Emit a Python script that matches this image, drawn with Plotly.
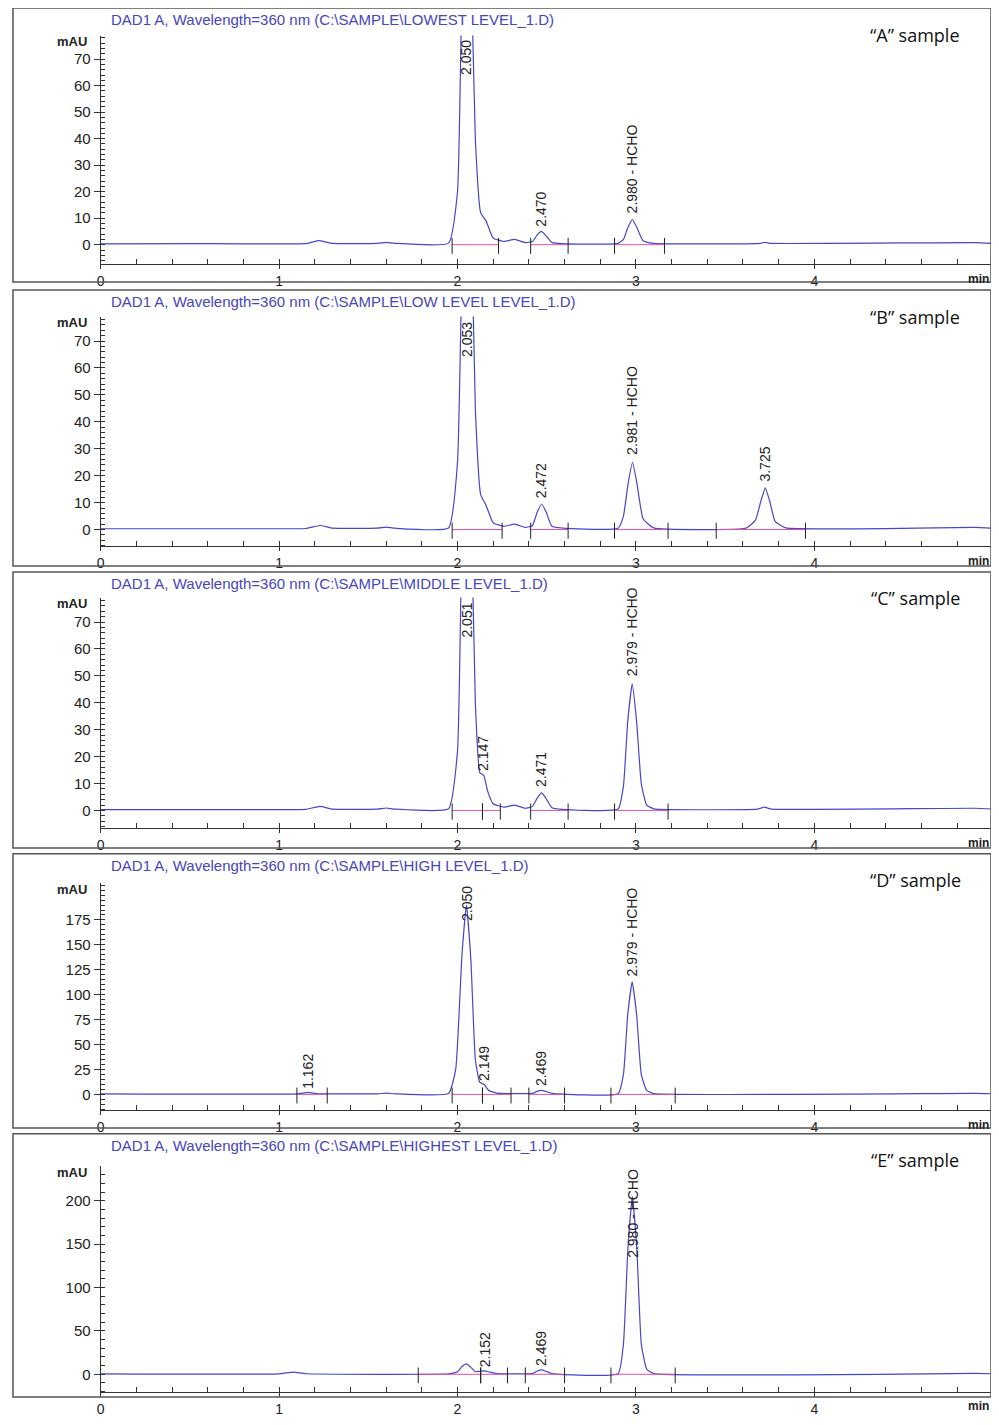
import plotly.graph_objects as go

# retention time (min) / signal (mAU)
t_a = [0, 0.6, 1.0, 1.15, 1.22, 1.3, 1.55, 1.6, 1.65, 1.95, 2.0, 2.025, 2.05, 2.075, 2.1, 2.13, 2.16, 2.2, 2.26, 2.32, 2.38, 2.42, 2.445, 2.47, 2.495, 2.53, 2.9, 2.93, 2.955, 2.98, 3.005, 3.04, 3.1, 3.7, 3.72, 3.76, 4.9, 5.0]
s_a = [0.3, 0.4, 0.3, 0.4, 1.5, 0.5, 0.5, 0.9, 0.5, 0.6, 20, 100, 150, 110, 40, 12, 9, 2.5, 1.2, 2, 0.8, 1.2, 3.5, 5, 3.5, 0.8, 0.5, 2, 6.5, 9.5, 6.5, 1.5, 0.5, 0.5, 0.9, 0.5, 0.8, 0.5]

t_b = [0, 1.0, 1.15, 1.23, 1.3, 1.55, 1.6, 1.65, 1.95, 2.0, 2.028, 2.053, 2.078, 2.1, 2.13, 2.16, 2.2, 2.26, 2.32, 2.38, 2.42, 2.447, 2.472, 2.497, 2.53, 2.9, 2.93, 2.956, 2.981, 3.006, 3.04, 3.1, 3.62, 3.67, 3.70, 3.725, 3.75, 3.78, 3.84, 4.9, 5.0]
s_b = [0.3, 0.3, 0.4, 1.5, 0.5, 0.5, 0.9, 0.5, 0.6, 25, 110, 160, 115, 45, 13, 9, 2.5, 1.2, 2, 0.8, 1.5, 6.5, 9.5, 6.5, 1.2, 0.5, 5, 17, 25, 17, 4, 0.6, 0.6, 3.5, 10.5, 15.5, 10.5, 3, 0.6, 0.8, 0.5]

t_c = [0, 1.0, 1.15, 1.23, 1.3, 1.55, 1.6, 1.65, 1.95, 2.0, 2.026, 2.051, 2.076, 2.1, 2.125, 2.147, 2.17, 2.2, 2.26, 2.32, 2.38, 2.42, 2.446, 2.471, 2.496, 2.53, 2.9, 2.93, 2.954, 2.979, 3.004, 3.03, 3.06, 3.1, 3.68, 3.72, 3.76, 4.9, 5.0]
s_c = [0.3, 0.3, 0.4, 1.5, 0.5, 0.5, 0.9, 0.5, 0.6, 22, 110, 160, 115, 40, 14, 13, 7, 2.5, 1.2, 2, 0.8, 1.5, 4.5, 6.5, 4.5, 1.0, 0.5, 9, 33, 47, 33, 10, 2, 0.6, 0.5, 1.2, 0.5, 0.8, 0.5]

t_d = [0, 1.1, 1.162, 1.22, 1.55, 1.6, 1.65, 1.95, 1.99, 2.025, 2.05, 2.075, 2.1, 2.125, 2.149, 2.175, 2.22, 2.3, 2.42, 2.445, 2.469, 2.495, 2.53, 2.9, 2.93, 2.954, 2.979, 3.004, 3.03, 3.06, 3.1, 4.9, 5.0]
s_d = [0.5, 0.5, 2, 0.6, 0.6, 1.2, 0.6, 0.8, 25, 140, 190, 135, 35, 12, 10, 4, 1.2, 0.8, 1, 3, 4, 3, 1, 0.6, 20, 80, 113, 80, 20, 4, 0.8, 1, 0.6]

t_e = [0, 1.0, 1.08, 1.15, 1.95, 2.0, 2.025, 2.05, 2.075, 2.1, 2.127, 2.152, 2.18, 2.22, 2.42, 2.445, 2.469, 2.495, 2.53, 2.9, 2.93, 2.955, 2.98, 3.005, 3.03, 3.06, 3.1, 4.9, 5.0]
s_e = [0.5, 0.5, 2.5, 0.6, 0.6, 3, 9, 12, 8, 3, 3.5, 4, 2.5, 0.8, 0.8, 3.5, 5, 3.5, 0.8, 0.6, 35, 145, 205, 145, 35, 6, 0.8, 1, 0.6]

# integration events (start, end) and labelled peaks
base_a = [(1.97, 2.23), (2.41, 2.62), (2.88, 3.16)]
base_b = [(1.97, 2.25), (2.41, 2.62), (2.88, 3.18), (3.45, 3.95)]
base_c = [(1.97, 2.14), (2.14, 2.24), (2.41, 2.62), (2.88, 3.18)]
base_d = [(1.10, 1.27), (1.97, 2.14), (2.14, 2.30), (2.40, 2.60), (2.86, 3.22)]
base_e = [(1.78, 2.13), (2.13, 2.28), (2.38, 2.60), (2.86, 3.22)]

lab_a = [(2.050, 78, "2.050", True), (2.470, 6, "2.470", False), (2.980, 11, "2.980 - HCHO", False)]
lab_b = [(2.053, 78, "2.053", True), (2.472, 11, "2.472", False), (2.981, 27, "2.981 - HCHO", False), (3.725, 17, "3.725", False)]
lab_c = [(2.051, 78, "2.051", True), (2.147, 14, "2.147", False), (2.471, 8, "2.471", False), (2.979, 49, "2.979 - HCHO", False)]
lab_d = [(2.050, 211, "2.050", True), (1.162, 4, "1.162", False), (2.149, 11, "2.149", False), (2.469, 6, "2.469", False), (2.979, 116, "2.979 - HCHO", False)]
lab_e = [(2.980, 239, "2.980 - HCHO", True), (2.152, 6, "2.152", False), (2.469, 7, "2.469", False)]

files = ["LOWEST LEVEL_1.D", "LOW LEVEL LEVEL_1.D", "MIDDLE LEVEL_1.D", "HIGH LEVEL_1.D", "HIGHEST LEVEL_1.D"]
samples = ["A", "B", "C", "D", "E"]

# pixel geometry of each panel: box top, box bottom, axis top, axis bottom
boxes = [(5, 283, 33, 265), (291, 571, 318, 551), (577, 857, 603, 837), (863, 1141, 893, 1123), (1147, 1423, 1180, 1409)]
yranges = [(-7.4, 78.9), (-6.2, 79.1), (-6.6, 79.1), (-15.8, 211.7), (-20.5, 239.8)]
ydticks = [10, 10, 10, 25, 50]
ymaxtick = [70, 70, 70, 175, 200]

# canvas is a little smaller than the window and sits offset in the page
OX, OY = 11, 5
W = 999 - 16
H = 1425 - 16
blue = "rgb(70,70,200)"
pink = "rgb(225,80,160)"


def px(p):
    return min(max((p - OX) / W, 0), 1)


def py(p):
    return min(max(1 - (p - OY) / H, 0), 1)


data = [(t_a, s_a, base_a, lab_a), (t_b, s_b, base_b, lab_b), (t_c, s_c, base_c, lab_c), (t_d, s_d, base_d, lab_d), (t_e, s_e, base_e, lab_e)]
font = "Liberation Sans"

fig = go.Figure()
for i, (t, s, base, labs) in enumerate(data):
    n = "" if i == 0 else str(i + 1)
    xa, ya = "x" + n, "y" + n
    fig.add_trace(go.Scatter(x=t, y=s, mode="lines", line=dict(color=blue, width=1.2, shape="spline", smoothing=0.4),
                             xaxis=xa, yaxis=ya, showlegend=False))
    bx, by = [], []
    tx, ty = [], []
    span = yranges[i][1] - yranges[i][0]
    for a, b in base:
        bx += [a, b, None]
        by += [0, 0, None]
        tx += [a, a, None, b, b, None]
        ty += [-0.04 * span, 0.03 * span, None, -0.04 * span, 0.03 * span, None]
    fig.add_trace(go.Scatter(x=bx, y=by, mode="lines", line=dict(color=pink, width=1), xaxis=xa, yaxis=ya, showlegend=False))
    fig.add_trace(go.Scatter(x=tx, y=ty, mode="lines", line=dict(color="#222", width=1), xaxis=xa, yaxis=ya, showlegend=False))
    for x, y, txt, top in labs:
        fig.add_annotation(x=x, y=y, xref=xa, yref=ya, text=txt, textangle=-90, showarrow=False,
                           yanchor="top" if top else "bottom", xanchor="center",
                           font=dict(family=font, size=14, color="#222"))
    b0, b1, a0, a1 = boxes[i]
    fig.update_layout(**{
        "xaxis" + n: dict(domain=[px(100), px(998)], range=[0, 4.99], tickvals=[0, 1, 2, 3, 4], showgrid=False,
                          zeroline=False, showline=True, linecolor="#333", ticks="outside", ticklen=4, tickcolor="#333",
                          minor=dict(dtick=0.2, ticks="inside", ticklen=5, tickcolor="#333"),
                          anchor=ya, tickfont=dict(family=font, size=14, color="#222")),
        "yaxis" + n: dict(domain=[py(a1), py(a0)], range=list(yranges[i]), tickvals=list(range(0, ymaxtick[i] + 1, ydticks[i])),
                          showgrid=False, zeroline=False, showline=True, linecolor="#333", ticks="outside", ticklen=6,
                          tickcolor="#333", minor=dict(dtick=ydticks[i] / 5, ticks="inside", ticklen=4, tickcolor="#333"),
                          anchor=xa, tickfont=dict(family=font, size=15, color="#222")),
    })
    fig.add_shape(type="rect", xref="paper", yref="paper", x0=px(12), x1=px(997), y0=py(b1), y1=py(b0),
                  line=dict(color="#555", width=1.5))
    fig.add_annotation(xref="paper", yref="paper", x=px(108), y=py(b0 + 12), text="DAD1 A, Wavelength=360 nm (C:\\SAMPLE\\" + files[i] + ")",
                       showarrow=False, xanchor="left", yanchor="middle", font=dict(family=font, size=15, color="rgb(70,70,190)"))
    fig.add_annotation(xref="paper", yref="paper", x=px(918), y=py(b0 + 27), text="\u201c" + samples[i] + "\u201d sample",
                       showarrow=False, xanchor="center", yanchor="middle", font=dict(family="Open Sans", size=18, color="#111"))
    fig.add_annotation(xref="paper", yref="paper", x=px(88), y=py(a0 + 6), text="<b>mAU</b>",
                       showarrow=False, xanchor="right", yanchor="middle", font=dict(family=font, size=13, color="#222"))
    fig.add_annotation(xref="paper", yref="paper", x=1, y=py(a1 + 6), text="<b>min</b>",
                       showarrow=False, xanchor="right", yanchor="top", font=dict(family=font, size=12, color="#222"))

fig.update_layout(width=W, height=H, margin=dict(l=0, r=0, t=0, b=0), plot_bgcolor="white", paper_bgcolor="white")
fig.write_html("out.html")
